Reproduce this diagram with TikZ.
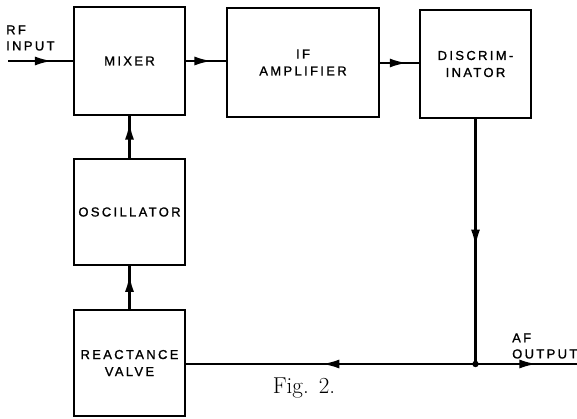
\documentclass[tikz,border=0pt]{standalone}
\usepackage{fontspec}
\usetikzlibrary{arrows.meta,decorations.markings}
\newfontfamily\labelfont[LetterSpace=18,FakeBold=1.2]{Liberation Sans}
\begin{document}
\begin{tikzpicture}[x=1pt,y=-1pt,
  blockbox/.style={draw=black,line width=2.8pt,minimum width=111pt,minimum height=108pt,inner sep=0pt,align=center,font=\labelfont\fontsize{13}{17}\selectfont},
  txt/.style={inner sep=0pt,align=left,font=\labelfont\fontsize{13}{16}\selectfont},
  wire/.style={line width=2.2pt},
  midarrow/.style={postaction={decorate,decoration={markings,mark=at position #1 with {\arrow{Latex[length=17pt,width=9pt]}}}}}]
\useasboundingbox (0,0) rectangle (577,419);
\node[blockbox] (mixer) at (129.5,61) {MIXER};
\node[blockbox,minimum width=152pt,minimum height=109pt] (ifamp) at (303,62.5) {IF\\AMPLIFIER};
\node[blockbox] (disc) at (475.5,64) {DISCRIM-\\INATOR};
\node[blockbox,minimum height=106pt] (osc) at (129.5,212) {OSCILLATOR};
\node[blockbox,minimum height=106pt] (react) at (129.5,363) {REACTANCE\\VALVE};
\coordinate (rfin) at (8,61);
\coordinate (junc) at (475.5,364);
\coordinate (afout) at (577,364);
\node[txt,anchor=west] (rflabel) at (6,38) {RF\\INPUT};
\node[txt,anchor=west] (aflabel) at (512,346) {AF\\OUTPUT};
\node[inner sep=0pt,font=\fontsize{23}{25}\selectfont] (cap) at (304,388) {Fig.\hspace{10pt}2.};
\draw[wire,midarrow=0.68] (rfin) -- (rfin -| mixer.west);
\draw[wire,midarrow=0.64] (mixer.east) -- (mixer.east -| ifamp.west);
\draw[wire,midarrow=0.69] (ifamp.east |- 63,63) -- (disc.west |- 63,63);
\draw[wire,midarrow=0.52] (disc.south) -- (junc);
\draw[wire,midarrow=0.53] (junc) -- (junc -| react.east);
\draw[wire,midarrow=0.6] (junc) -- (afout);
\draw[wire,midarrow=0.85] (osc.north) -- (mixer.south);
\draw[wire,midarrow=0.8] (react.north) -- (osc.south);
\fill (junc) circle (3.2pt);
\end{tikzpicture}
\end{document}
